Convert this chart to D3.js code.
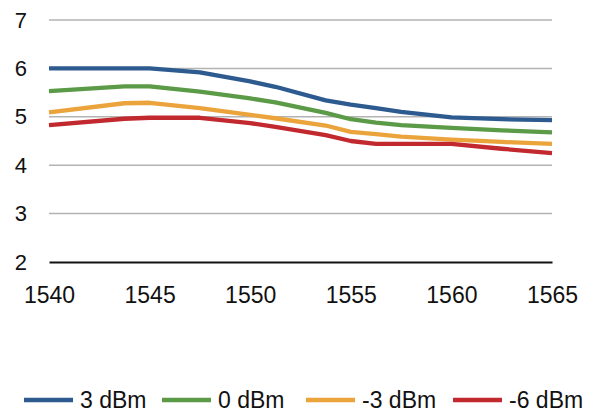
<!DOCTYPE html>
<html>
<head>
<meta charset="utf-8">
<script src="https://d3js.org/d3.v7.min.js"></script>
<style>
  html, body { margin: 0; padding: 0; background: #fff; }
  svg { display: block; font-family: "Liberation Sans", Arial, Helvetica, sans-serif; }
</style>
</head>
<body>
<svg id="chart" width="603" height="412"></svg>
<script>
// wavelengths (nm)
const wavelengths = [1540, 1543.75, 1545, 1547.5, 1550, 1551.25, 1553.75, 1555, 1556.25, 1557.5, 1560, 1562.5, 1565];

// series values
const p3  = [6.00, 6.00, 6.00, 5.92, 5.73, 5.62, 5.34, 5.25, 5.18, 5.10, 4.99, 4.95, 4.93];
const p0  = [5.53, 5.63, 5.63, 5.52, 5.38, 5.30, 5.08, 4.95, 4.88, 4.83, 4.77, 4.72, 4.68];
const m3  = [5.09, 5.28, 5.29, 5.18, 5.04, 4.97, 4.82, 4.69, 4.64, 4.59, 4.53, 4.48, 4.44];
const m6  = [4.83, 4.96, 4.98, 4.98, 4.87, 4.79, 4.62, 4.50, 4.44, 4.44, 4.44, 4.34, 4.25];

const seriesNames = ['3 dBm', '0 dBm', '-3 dBm', '-6 dBm'];
const seriesValues = [p3, p0, m3, m6];
const colors = ['#2e5b8f', '#5b9a46', '#eba43b', '#c1292f'];

const xTicks = [1540, 1545, 1550, 1555, 1560, 1565];
const yTicks = [2, 3, 4, 5, 6, 7];

const svg = d3.select('#chart');
const plotL = 49, plotR = 552, plotT = 20, plotB = 262;

const x = d3.scaleLinear().domain([1540, 1565]).range([plotL, plotR]);
const y = d3.scaleLinear().domain([2, 7]).range([plotB, plotT]);

// gridlines
svg.append('g')
  .selectAll('line')
  .data(yTicks.filter(d => d !== 2))
  .join('line')
    .attr('x1', plotL).attr('x2', plotR)
    .attr('y1', d => y(d)).attr('y2', d => y(d))
    .attr('stroke', '#b3b3b3')
    .attr('stroke-width', 1.5);

// y axis labels
const yAxis = svg.append('g')
  .attr('transform', `translate(${plotL},0)`)
  .call(d3.axisLeft(y).tickValues(yTicks).tickSize(0).tickPadding(22).tickFormat(d3.format('d')));
yAxis.select('.domain').remove();
yAxis.selectAll('text')
  .attr('font-size', 22)
  .attr('font-family', '"Liberation Sans", Arial, sans-serif')
  .attr('fill', '#111');

// x axis
const xAxis = svg.append('g')
  .attr('transform', `translate(0,${plotB})`)
  .call(d3.axisBottom(x).tickValues(xTicks).tickSize(0).tickPadding(25).tickFormat(d3.format('d')));
xAxis.select('.domain')
  .attr('stroke', '#111')
  .attr('stroke-width', 1.8);
xAxis.selectAll('text')
  .attr('font-size', 23)
  .attr('font-family', '"Liberation Sans", Arial, sans-serif')
  .attr('fill', '#111');

// lines
const line = d3.line()
  .x((d, i) => x(wavelengths[i]))
  .y(d => y(d));

svg.append('g')
  .selectAll('path')
  .data(seriesValues)
  .join('path')
    .attr('d', d => line(d))
    .attr('fill', 'none')
    .attr('stroke', (d, i) => colors[i])
    .attr('stroke-width', 4.3)
    .attr('stroke-linejoin', 'round');

// legend
const legendX = [24, 162, 306, 453];
const legend = svg.append('g')
  .selectAll('g')
  .data(seriesNames)
  .join('g')
    .attr('transform', (d, i) => `translate(${legendX[i]},400)`);

legend.append('line')
  .attr('x1', 0).attr('x2', 49)
  .attr('y1', 0).attr('y2', 0)
  .attr('stroke', (d, i) => colors[i])
  .attr('stroke-width', 4.3);

legend.append('text')
  .attr('x', 56)
  .attr('dy', '0.36em')
  .attr('font-size', 23)
  .attr('fill', '#111')
  .text(d => d);
</script>
</body>
</html>
